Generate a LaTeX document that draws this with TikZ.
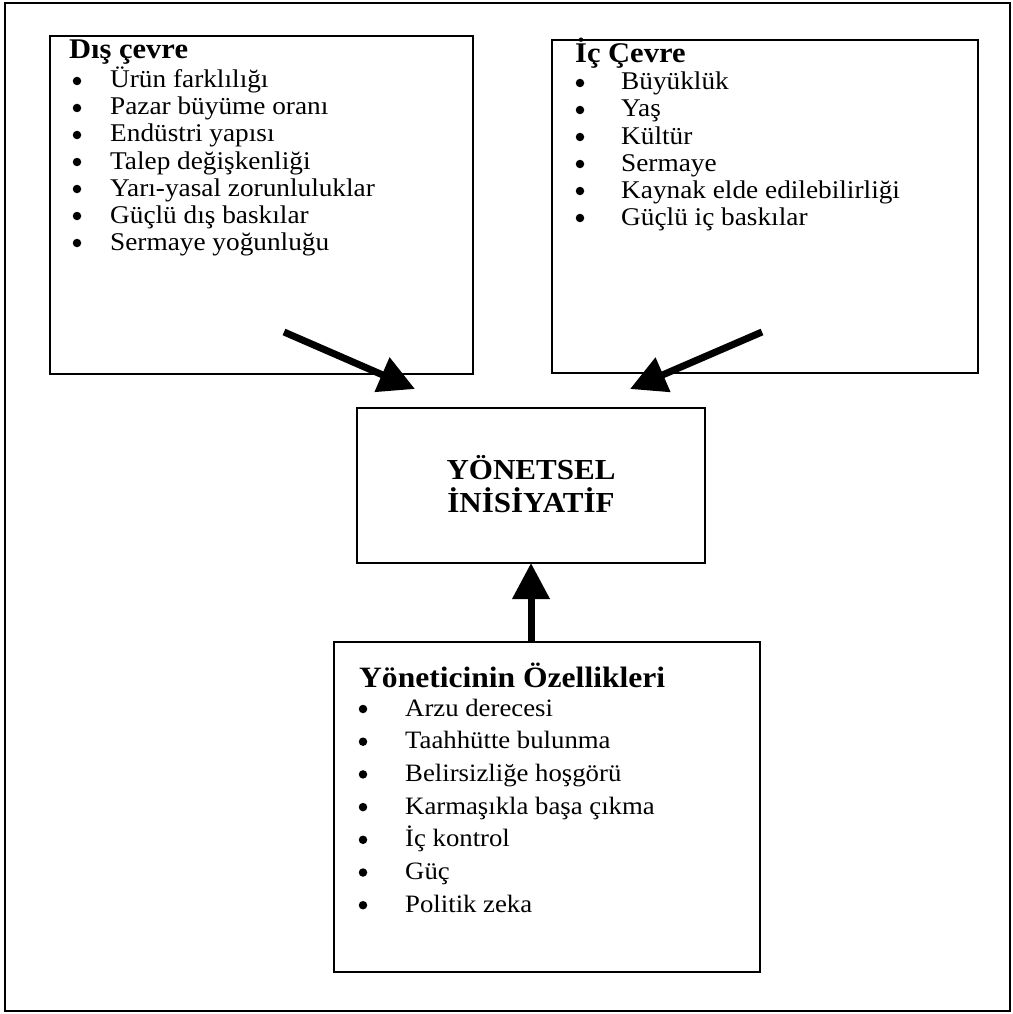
\documentclass[tikz,border=0pt]{standalone}
\usepackage{fontspec}
\setmainfont{Liberation Serif}[FakeStretch=1.07]
\usetikzlibrary{arrows.meta}
\begin{document}
\begin{tikzpicture}[x=1pt,y=-1pt,
  frame/.style={draw, line width=1.8pt, inner sep=0, outer sep=0},
  head/.style={font=\fontsize{28.5}{30}\selectfont\bfseries, anchor=base west, inner sep=0},
  item/.style={font=\fontsize{25.5}{28}\selectfont, anchor=base west, inner sep=0},
  bitem/.style={font=\fontsize{25}{28}\selectfont, anchor=base west, inner sep=0},
  bul/.style={circle, fill, draw=none, minimum size=8.5pt, inner sep=0},
  title/.style={font=\fontsize{29}{32}\selectfont\bfseries, anchor=base, inner sep=0},
  bigarrow/.style={line width=7pt, -{Triangle[length=36pt,width=36pt]}}]
\useasboundingbox (0,0) rectangle (1012,1014);

% outer frame and the four boxes
\node[frame, minimum width=1005, minimum height=1008] (page) at (507.5,507) {};
\node[frame, minimum width=423, minimum height=338] (dis) at (261.5,205) {};
\node[frame, minimum width=426, minimum height=333] (ic) at (765,206.5) {};
\node[frame, minimum width=348, minimum height=155] (yi) at (531,485.5) {};
\node[frame, minimum width=426, minimum height=330] (yo) at (547,807) {};

% external environment
\node[head] (dish) at (69,59) {Dış çevre};
\foreach \t [count=\i] in {Ürün farklılığı, Pazar büyüme oranı, Endüstri yapısı,
    Talep değişkenliği, Yarı-yasal zorunluluklar, Güçlü dış baskılar, Sermaye yoğunluğu} {
  \node[bul] (disb\i) at (77,{88+27*(\i-1)-7}) {};
  \node[item] (dis\i) at (110,{88+27*(\i-1)}) {\t};
}

% internal environment
\node[head] (ich) at (575,63) {İç Çevre};
\foreach \t [count=\i] in {Büyüklük, Yaş, Kültür, Sermaye,
    Kaynak elde edilebilirliği, Güçlü iç baskılar} {
  \node[bul] (icb\i) at (580,{90+27*(\i-1)-7}) {};
  \node[item] (ic\i) at (621,{90+27*(\i-1)}) {\t};
}

% central box
\node[title] (yi1) at (531,479) {YÖNETSEL};
\node[title] (yi2) at (531,512) {İNİSİYATİF};

% manager characteristics
\node[head, font=\fontsize{29.5}{32}\selectfont\bfseries] (yoh) at (359,687) {Yöneticinin Özellikleri};
\foreach \t [count=\i] in {Arzu derecesi, Taahhütte bulunma, Belirsizliğe hoşgörü,
    Karmaşıkla başa çıkma, İç kontrol, Güç, Politik zeka} {
  \node[bul] (yob\i) at (363,{716+32.7*(\i-1)-7}) {};
  \node[bitem] (yo\i) at (405,{716+32.7*(\i-1)}) {\t};
}

% influence arrows
\coordinate (ls) at (284,332);
\coordinate (le) at (415,389);
\coordinate (rs) at (762,332);
\coordinate (re) at (630,389);
\draw[bigarrow] (ls) -- (le);
\draw[bigarrow] (rs) -- (re);
\draw[bigarrow] (yi.south |- yo.north) -- (yi.south);
\end{tikzpicture}
\end{document}
